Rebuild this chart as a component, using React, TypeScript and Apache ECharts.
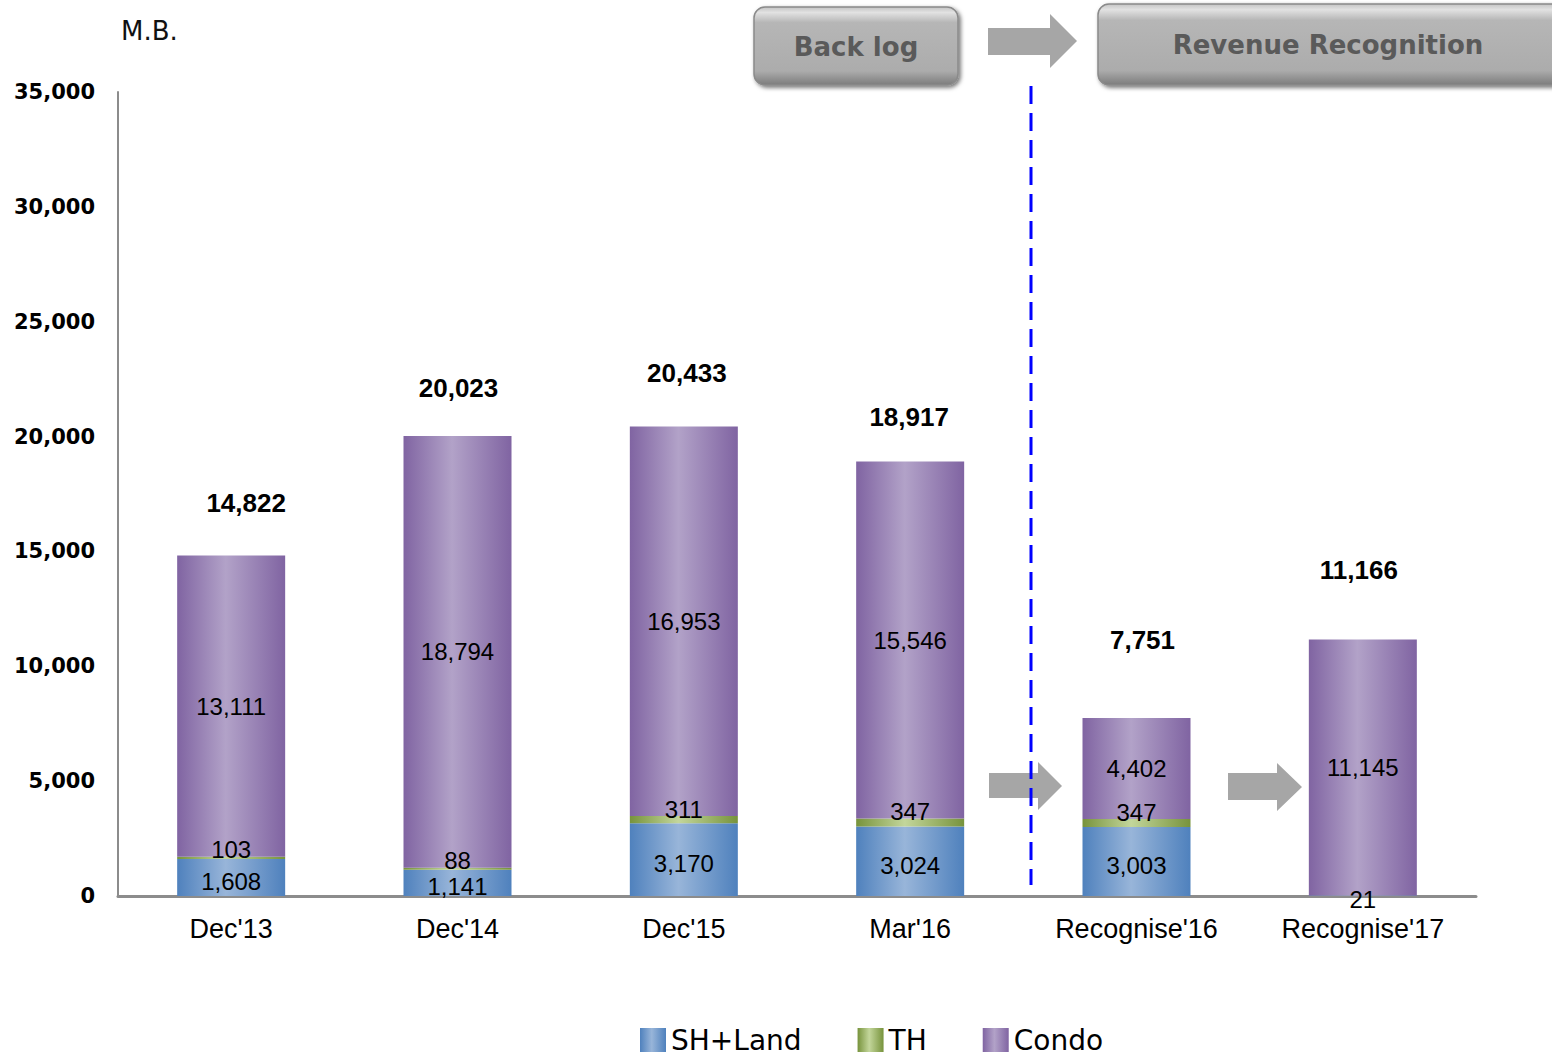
import React, { useEffect, useRef } from "react";
import * as echarts from "echarts";

const categories = ["Dec'13", "Dec'14", "Dec'15", "Mar'16", "Recognise'16", "Recognise'17"];
const shLand = [1608, 1141, 3170, 3024, 3003, 21];
const th = [103, 88, 311, 347, 347, 0];
const condo = [13111, 18794, 16953, 15546, 4402, 11145];
const totals = ["14,822", "20,023", "20,433", "18,917", "7,751", "11,166"];
const yTicks = { min: 0, max: 35000, interval: 5000 };

// label nudges for the total labels (style only)
const totalLabelNudge = [
  [15, -2],
  [1, 3],
  [3, -3],
  [-1, 7],
  [6, -27],
  [-4, -19],
];

const grad = (edge: string, mid: string) =>
  new echarts.graphic.LinearGradient(0, 0, 1, 0, [
    { offset: 0, color: edge },
    { offset: 0.45, color: mid },
    { offset: 1, color: edge },
  ]);

const fmtNum = (v: number) => v.toLocaleString("en-US");

const boxFill = () =>
  new echarts.graphic.LinearGradient(0, 0, 0, 1, [
    { offset: 0, color: "#c4c4c4" },
    { offset: 0.07, color: "#e2e2e2" },
    { offset: 0.2, color: "#b6b6b6" },
    { offset: 0.82, color: "#acacac" },
    { offset: 1, color: "#7c7c7c" },
  ]);

export default function App() {
  const ref = useRef<HTMLDivElement>(null);
  useEffect(() => {
    if (!ref.current) return;
    const chart = echarts.init(ref.current, undefined, { renderer: "svg" });
    const labelBase = {
      color: "#000",
      fontFamily: "Liberation Sans, Arial, sans-serif",
      fontSize: 24,
    };
    const option: any = {
      animation: false,
      backgroundColor: "#fff",
      grid: { left: 118, right: 76, top: 92, bottom: 159, containLabel: false },
      legend: {
        data: ["SH+Land", "TH", "Condo"],
        left: 640,
        top: 1026,
        padding: 0,
        icon: "rect",
        itemWidth: 26,
        itemHeight: 24,
        itemGap: 56,
        textStyle: { fontFamily: "DejaVu Sans", fontSize: 28, color: "#000", lineHeight: 28 },
      },
      xAxis: {
        type: "category",
        data: categories,
        axisLine: { show: true, lineStyle: { color: "#8c8c8c", width: 3 } },
        axisTick: { show: false },
        axisLabel: {
          margin: 19,
          color: "#000",
          fontFamily: "Liberation Sans, Arial, sans-serif",
          fontSize: 27,
        },
      },
      yAxis: {
        type: "value",
        min: yTicks.min,
        max: yTicks.max,
        interval: yTicks.interval,
        splitLine: { show: false },
        axisTick: { show: false },
        axisLine: { show: true, lineStyle: { color: "#8c8c8c", width: 2 } },
        axisLabel: {
          margin: 23,
          color: "#000",
          fontWeight: "bold",
          fontFamily: "DejaVu Sans",
          fontSize: 21,
          formatter: (v: number) => fmtNum(v),
        },
      },
      series: [
        {
          name: "SH+Land",
          type: "bar",
          stack: "t",
          barWidth: 108,
          data: shLand,
          itemStyle: { color: grad("#4f81bd", "#98b5d9") },
          label: {
            show: true,
            position: "inside",
            offset: [0, 4],
            ...labelBase,
            formatter: (p: any) => (p.value ? fmtNum(p.value) : ""),
          },
        },
        {
          name: "TH",
          type: "bar",
          stack: "t",
          barWidth: 108,
          data: th,
          itemStyle: { color: grad("#77933c", "#c3d69b") },
          label: {
            show: true,
            position: "top",
            distance: -5,
            ...labelBase,
            formatter: (p: any) => (p.value ? fmtNum(p.value) : ""),
          },
        },
        {
          name: "Condo",
          type: "bar",
          stack: "t",
          barWidth: 108,
          data: condo,
          itemStyle: { color: grad("#8064a2", "#b2a2c8") },
          label: {
            show: true,
            position: "inside",
            ...labelBase,
            formatter: (p: any) => fmtNum(p.value),
          },
        },
        {
          name: "Total",
          type: "bar",
          stack: "t",
          barWidth: 108,
          data: categories.map((_, i) => ({
            value: 0,
            label: { offset: totalLabelNudge[i] },
          })),
          itemStyle: { color: "transparent" },
          label: {
            show: true,
            position: "top",
            distance: 38,
            color: "#000",
            fontWeight: "bold",
            fontFamily: "Liberation Sans, Arial, sans-serif",
            fontSize: 26,
            formatter: (p: any) => totals[p.dataIndex],
          },
        },
      ],
      graphic: [
        {
          type: "text",
          left: 121,
          top: 18,
          style: { text: "M.B.", font: "26px 'DejaVu Sans'", fill: "#111" },
        },
        {
          type: "rect",
          shape: { x: 754, y: 7, width: 204, height: 78, r: 11 },
          style: {
            fill: boxFill(),
            stroke: "#8a8a8a",
            lineWidth: 1.5,
            shadowBlur: 4,
            shadowColor: "rgba(0,0,0,0.55)",
            shadowOffsetX: 2,
            shadowOffsetY: 2,
          },
        },
        {
          type: "text",
          x: 856,
          y: 47,
          style: {
            text: "Back log",
            font: "bold 26px 'DejaVu Sans'",
            fill: "#5a5a5a",
            align: "center",
            verticalAlign: "middle",
          },
        },
        {
          type: "rect",
          shape: { x: 1098, y: 4, width: 470, height: 81, r: 11 },
          style: {
            fill: boxFill(),
            stroke: "#8a8a8a",
            lineWidth: 1.5,
            shadowBlur: 4,
            shadowColor: "rgba(0,0,0,0.55)",
            shadowOffsetX: 2,
            shadowOffsetY: 2,
          },
        },
        {
          type: "text",
          x: 1328,
          y: 45,
          style: {
            text: "Revenue Recognition",
            font: "bold 26px 'DejaVu Sans'",
            fill: "#5a5a5a",
            align: "center",
            verticalAlign: "middle",
          },
        },
        {
          type: "polygon",
          shape: {
            points: [
              [988, 28], [1050, 28], [1050, 14], [1077, 41], [1050, 68], [1050, 55], [988, 55],
            ],
          },
          style: { fill: "#a6a6a6" },
        },
        {
          type: "polygon",
          shape: {
            points: [
              [989, 773], [1038, 773], [1038, 762], [1062, 786], [1038, 810], [1038, 798], [989, 798],
            ],
          },
          style: { fill: "#a6a6a6" },
        },
        {
          type: "polygon",
          shape: {
            points: [
              [1228, 773], [1277, 773], [1277, 763], [1302, 787], [1277, 811], [1277, 800], [1228, 800],
            ],
          },
          style: { fill: "#a6a6a6" },
        },
        {
          type: "line",
          shape: { x1: 1031, y1: 86, x2: 1031, y2: 885 },
          style: { stroke: "#0000ff", lineWidth: 3, lineDash: [18, 9] },
          z: 100,
        },
      ],
    };
    chart.setOption(option);
    return () => chart.dispose();
  }, []);
  return (
    <div
      ref={ref}
      style={{ position: "fixed", left: 0, top: 0, width: 1552, height: 1055, background: "#fff" }}
    />
  );
}
